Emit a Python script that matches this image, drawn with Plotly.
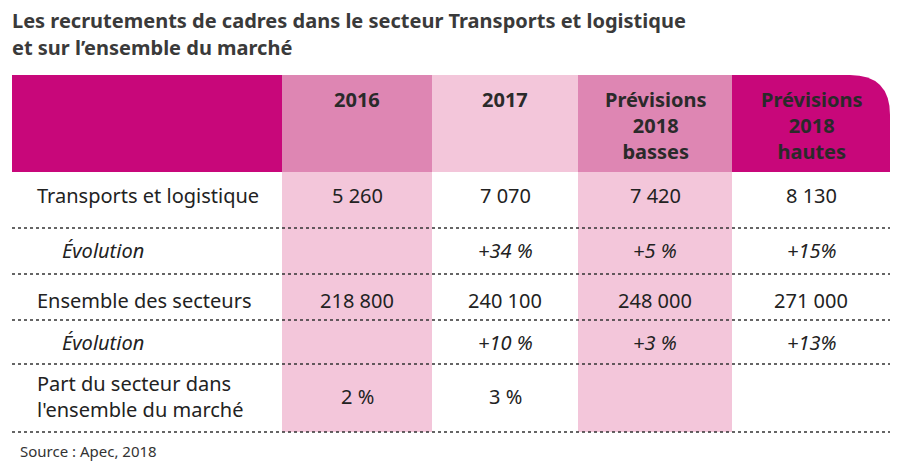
import plotly.graph_objects as go

title_lines = ["Les recrutements de cadres dans le secteur Transports et logistique", "et sur l’ensemble du marché"]
headers = ["2016", "2017", "Prévisions<br>2018<br>basses", "Prévisions<br>2018<br>hautes"]
row_labels = ["Transports et logistique", "<i>Évolution</i>", "Ensemble des secteurs", "<i>Évolution</i>", "Part du secteur dans<br>l'ensemble du marché"]
row_indent = [False, True, False, True, False]
values = [
    ["5 260", "7 070", "7 420", "8 130"],
    ["", "<i>+34 %</i>", "<i>+5 %</i>", "<i>+15%</i>"],
    ["218 800", "240 100", "248 000", "271 000"],
    ["", "<i>+10 %</i>", "<i>+3 %</i>", "<i>+13%</i>"],
    ["2 %", "3 %", "", ""],
]
source = "Source : Apec, 2018"

col_edges = [12, 282, 432, 578, 732, 890]
head_top, head_bot = 75, 172
row_centers = [195, 250, 300, 342, 396]
row_lines = [228, 274, 320, 364, 432]
head_colors = ["#c8077a", "#de86b3", "#f3c6da", "#de86b3", "#c8077a"]
body_colors = [None, "#f3c6da", None, "#f3c6da", None]
FONT = "Noto Sans"

fig = go.Figure()
shapes = []
for i in range(5):
    x0, x1 = col_edges[i], col_edges[i + 1]
    if i == 4:
        r = 40
        path = f"M{x0},{head_bot} L{x0},{head_top} L{x1-r},{head_top} Q{x1},{head_top} {x1},{head_top+r} L{x1},{head_bot} Z"
        shapes.append(dict(type="path", path=path, fillcolor=head_colors[i], line_width=0, layer="below"))
    else:
        shapes.append(dict(type="rect", x0=x0, x1=x1, y0=head_top, y1=head_bot, fillcolor=head_colors[i], line_width=0, layer="below"))
    if body_colors[i]:
        shapes.append(dict(type="rect", x0=x0, x1=x1, y0=head_bot, y1=row_lines[-1], fillcolor=body_colors[i], line_width=0, layer="below"))
for y in row_lines:
    shapes.append(dict(type="line", x0=col_edges[0], x1=col_edges[-1], y0=y, y1=y, line=dict(color="#333", width=1.5, dash="dot")))

ann = []
for k, t in enumerate(title_lines):
    ann.append(dict(x=10, y=20 + 27 * k, text=f"<b>{t}</b>", xanchor="left", yanchor="middle", showarrow=False, font=dict(family=FONT, size=20, color="#3a3a3a")))
for i, h in enumerate(headers):
    xc = (col_edges[i + 1] + col_edges[i + 2]) / 2
    ann.append(dict(x=xc, y=84, text=f"<b>{h}</b>", showarrow=False, font=dict(family=FONT, size=20, color="#2a2a2a"), yanchor="top"))
for r, lab in enumerate(row_labels):
    ann.append(dict(x=60 if row_indent[r] else 35, y=row_centers[r], text=lab, xanchor="left", align="left", showarrow=False, font=dict(family=FONT, size=20, color="#222")))
    for c, v in enumerate(values[r]):
        if v:
            xc = (col_edges[c + 1] + col_edges[c + 2]) / 2
            ann.append(dict(x=xc, y=row_centers[r], text=v, showarrow=False, font=dict(family=FONT, size=20, color="#222")))
ann.append(dict(x=18, y=451, text=source, xanchor="left", showarrow=False, font=dict(family=FONT, size=15, color="#333")))

fig.update_layout(width=901, height=473, margin=dict(l=0, r=0, t=0, b=0), plot_bgcolor="white", paper_bgcolor="white",
                  shapes=shapes, annotations=ann, showlegend=False,
                  xaxis=dict(range=[8, 909], visible=False, fixedrange=True),
                  yaxis=dict(range=[481, 8], visible=False, fixedrange=True))
fig.write_html("out.html")
